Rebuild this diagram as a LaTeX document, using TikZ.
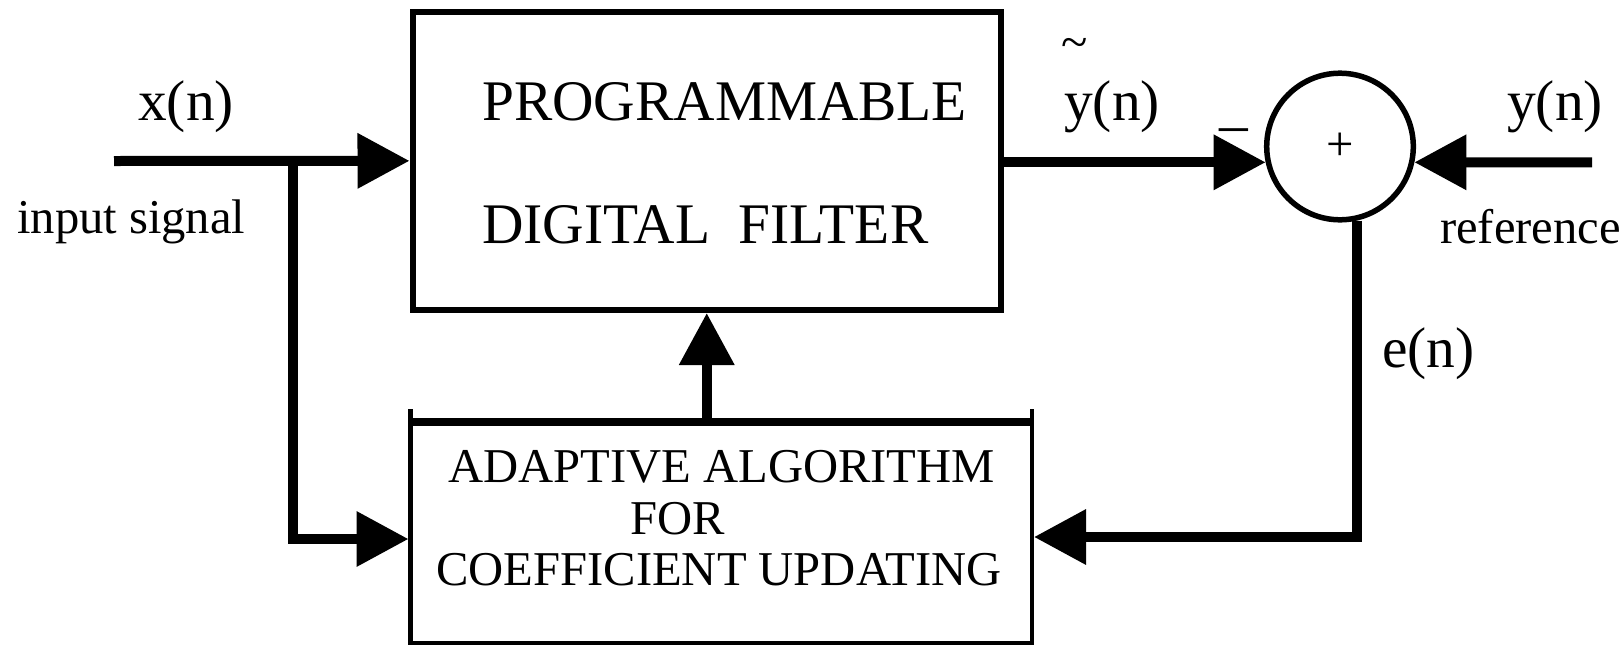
\documentclass[tikz,border=0pt]{standalone}
\usepackage{fontspec}
\setmainfont{Liberation Serif}
\usetikzlibrary{arrows.meta}

\begin{document}
\begin{tikzpicture}[x=1pt,y=1pt,yscale=-1,xscale=1,
  sig/.style={line width=10pt,-{Triangle[length=52pt,width=53pt]}},
  bigtxt/.style={font=\fontsize{57.4}{69}\selectfont,inner sep=0pt,anchor=base west},
  smalltxt/.style={font=\fontsize{48.6}{58}\selectfont,inner sep=0pt,anchor=base west}]
%set diagram left start at 0, and has height of 648
\useasboundingbox (0,0) rectangle (1624,648);

%Shape: Rectangle
\node [draw,line width=6pt,minimum width=588.5pt,minimum height=298.3pt,inner sep=0pt] (pdf) at (706.75,160.85) {};
%Shape: Rectangle, open at the top
\node [minimum width=621.5pt,minimum height=234pt,inner sep=0pt,outer sep=0pt] (alg) at (721.25,526) {};
\draw [line width=4.5pt] (alg.north west) -- (alg.south west) -- (alg.south east) -- (alg.north east) ;
%Straight Lines
\draw [line width=7.5pt] ([xshift=1.5pt,yshift=13pt]alg.north west) -- ([xshift=-2pt,yshift=13pt]alg.north east) ;
%Shape: Circle
\node [draw,circle,line width=5.5pt,minimum size=146.6pt,inner sep=0pt] (sum) at (1340,146.5) {};

\coordinate (xin) at (114,161);
\coordinate (tap) at (293,161);
\coordinate (yref) at (1592,162.3);
\coordinate (upin) at ([yshift=13pt]alg.north);

%Straight Lines
\draw [sig] (xin) -- (pdf.west) ;
\draw [sig] (tap) |- ([xshift=-2pt,yshift=13pt]alg.west) ;
\draw [sig] (pdf.east |- sum.192) -- (sum.192) ;
\draw [sig] (yref) -- (sum.348) ;
\draw [sig] (pdf.south |- upin) -- (pdf.south) ;
\draw [sig] (sum.283) |- ([xshift=2pt,yshift=11pt]alg.east) ;

% Text Node
\draw (482,120) node [bigtxt] (pdf1) {PROGRAMMABLE};
% Text Node
\draw (482,243) node [bigtxt] (pdf2) {DIGITAL~~FILTER};
% Text Node
\draw (448,482) node [smalltxt] (alg1) {ADAPTIVE ALGORITHM};
% Text Node
\draw (630,534) node [smalltxt] (alg2) {FOR};
% Text Node
\draw (436,585) node [smalltxt] (alg3) {COEFFICIENT UPDATING};
% Text Node
\draw (138,120) node [bigtxt] (xlab) {x(n)};
% Text Node
\draw (17,233) node [smalltxt] (inlab) {input signal};
% Text Node
\draw (1075,48) node [font=\fontsize{48.6}{58}\selectfont,inner sep=0pt] (tld) {\textasciitilde};
% Text Node
\draw (1064,120) node [bigtxt] (ytlab) {y(n)};
% Text Node
\draw (1219,143) node [bigtxt] (minus) {\textendash};
% Text Node
\draw (1340,147) node [font=\fontsize{48.6}{58}\selectfont,inner sep=0pt] (plus) {+};
% Text Node
\draw (1507,120) node [bigtxt] (ylab) {y(n)};
% Text Node
\draw (1440,243) node [smalltxt] (reflab) {reference};
% Text Node
\draw (1382,367) node [bigtxt] (elab) {e(n)};

\end{tikzpicture}
\end{document}
